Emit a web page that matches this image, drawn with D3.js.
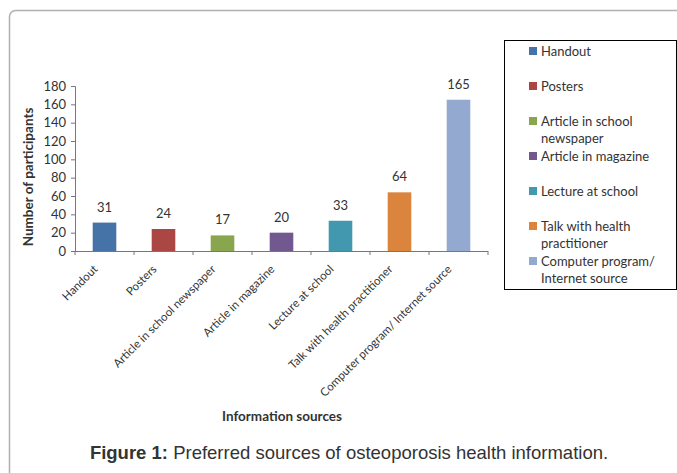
<!DOCTYPE html>
<html>
<head>
<meta charset="utf-8">
<script src="https://cdn.jsdelivr.net/npm/d3@7"></script>
<style>
  body { margin: 0; background: #fff; }
  text { font-family: Lato, "Open Sans", sans-serif; fill: #333; }
</style>
</head>
<body>
<div id="chart"></div>
<script>
const categories = ["Handout", "Posters", "Article in school newspaper", "Article in magazine",
                    "Lecture at school", "Talk with health practitioner", "Computer program/ Internet source"];
const values = [31, 24, 17, 20, 33, 64, 165];
const colors = ["#4572A7", "#AA4643", "#89A54E", "#71588F", "#4198AF", "#DB843D", "#93A9CF"];
const legendLines = [["Handout"], ["Posters"], ["Article in school", "newspaper"], ["Article in magazine"],
                     ["Lecture at school"], ["Talk with health", "practitioner"], ["Computer program/", "Internet source"]];
const yTicks = [0, 20, 40, 60, 80, 100, 120, 140, 160, 180];

const width = 677, height = 473;
const svg = d3.select("#chart").append("svg")
  .attr("width", width)
  .attr("height", height);

// outer frame
svg.append("rect")
  .attr("x", 9.5).attr("y", 10.5)
  .attr("width", 700).attr("height", 500)
  .attr("rx", 6)
  .attr("fill", "none")
  .attr("stroke", "#b0b0b0")
  .attr("stroke-width", 1.5);

const x = d3.scaleBand().domain(categories).range([75, 488]).paddingInner(0.6).paddingOuter(0.3);
const xb = d3.scaleBand().domain(categories).range([75, 488]);
const y = d3.scaleLinear().domain([0, 180]).range([251, 86]);

// y axis
const yAxis = svg.append("g")
  .attr("transform", "translate(75,0)")
  .call(d3.axisLeft(y).tickValues(yTicks).tickSize(4).tickPadding(5));
yAxis.select(".domain").attr("stroke", "#777");
yAxis.selectAll(".tick line").attr("stroke", "#777");
yAxis.selectAll(".tick text")
  .style("font-size", "13px").style("font-family", "Lato, sans-serif").attr("fill", "#333");

// x axis line with ticks at band boundaries
svg.append("line")
  .attr("x1", 75).attr("x2", 488).attr("y1", y(0) + 0.5).attr("y2", y(0) + 0.5)
  .attr("stroke", "#777");
svg.selectAll(".xtick")
  .data(categories.concat(["end"])).enter()
  .append("line")
  .attr("class", "xtick")
  .attr("x1", (d, i) => i < categories.length ? xb(d) : 488)
  .attr("x2", (d, i) => i < categories.length ? xb(d) : 488)
  .attr("y1", y(0)).attr("y2", y(0) + 4)
  .attr("stroke", "#777");

// bars
svg.selectAll(".bar")
  .data(values).enter()
  .append("rect")
  .attr("class", "bar")
  .attr("x", (d, i) => x(categories[i]))
  .attr("width", x.bandwidth())
  .attr("y", d => y(d))
  .attr("height", d => y(0) - y(d))
  .attr("fill", (d, i) => colors[i]);

// value labels
svg.selectAll(".val")
  .data(values).enter()
  .append("text")
  .attr("class", "val")
  .attr("x", (d, i) => x(categories[i]) + x.bandwidth() / 2)
  .attr("y", d => y(d) - 11)
  .attr("text-anchor", "middle")
  .style("font-size", "13px")
  .text(d => d);

// x tick labels
svg.selectAll(".xlab")
  .data(categories).enter()
  .append("text")
  .attr("class", "xlab")
  .attr("transform", d => `translate(${xb(d) + xb.bandwidth() / 2 - 9},${y(0) + 16}) rotate(-45)`)
  .attr("text-anchor", "end")
  .attr("dy", "0.35em")
  .style("font-size", "11.5px")
  .text(d => d);

// axis titles
svg.append("text")
  .attr("x", 282).attr("y", 421)
  .attr("text-anchor", "middle")
  .style("font-size", "13.5px").style("font-weight", "bold")
  .attr("fill", "#000")
  .text("Information sources");

svg.append("text")
  .attr("transform", "translate(33,177) rotate(-90)")
  .attr("text-anchor", "middle")
  .style("font-size", "13.5px").style("font-weight", "bold")
  .attr("fill", "#000")
  .text("Number of participants");

// legend
svg.append("rect")
  .attr("x", 504.5).attr("y", 40.5)
  .attr("width", 172).attr("height", 249)
  .attr("fill", "#fff").attr("stroke", "#000").attr("stroke-width", 1);

const legend = svg.selectAll(".leg")
  .data(legendLines).enter()
  .append("g")
  .attr("class", "leg")
  .attr("transform", (d, i) => `translate(529,${51 + i * 35})`);
legend.append("rect")
  .attr("x", 0).attr("y", -4).attr("width", 8).attr("height", 8)
  .attr("fill", (d, i) => colors[i]);
legend.each(function(lines) {
  const t = d3.select(this).append("text")
    .attr("x", 12).attr("y", 0)
    .style("font-size", "13px");
  lines.forEach((l, j) => {
    t.append("tspan").attr("x", 12).attr("y", j * 17.5).attr("dy", "0.35em").text(l);
  });
});

// caption
const cap = svg.append("text")
  .attr("x", 349).attr("y", 459)
  .attr("text-anchor", "middle")
  .style("font-family", "'Liberation Sans', Arial, sans-serif")
  .style("font-size", "18.5px")
  .attr("fill", "#000");
cap.append("tspan").style("font-weight", "bold").style("font-family", "'Liberation Sans', Arial, sans-serif").text("Figure 1:");
cap.append("tspan").style("font-family", "'Liberation Sans', Arial, sans-serif").text(" Preferred sources of osteoporosis health information.");
</script>
</body>
</html>
